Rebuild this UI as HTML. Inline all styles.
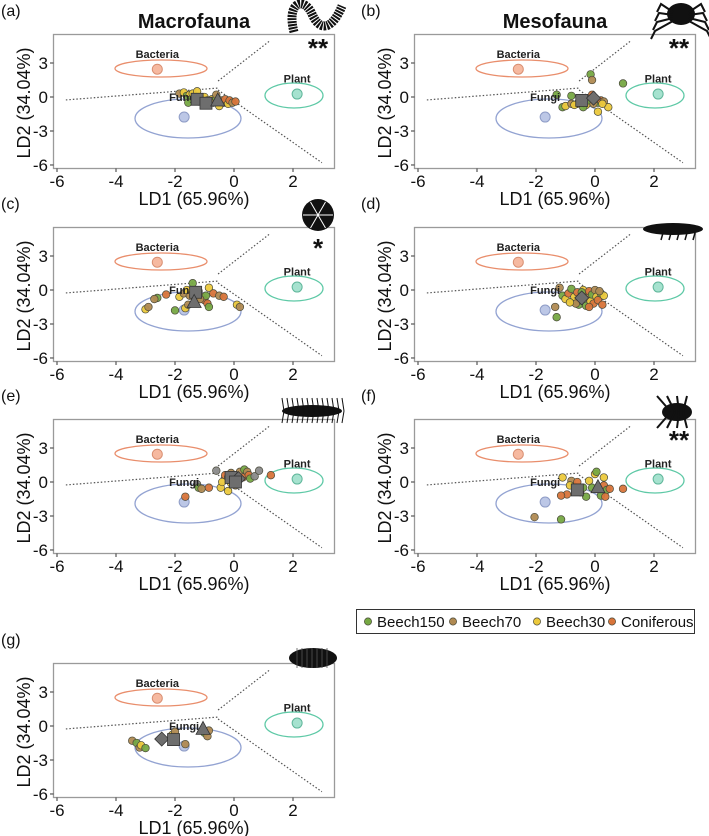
<!DOCTYPE html>
<html><head><meta charset="utf-8">
<style>
html,body{margin:0;padding:0;background:#fff;}
svg{display:block;font-family:"Liberation Sans",Arial,sans-serif;}
</style></head>
<body>
<svg id="chart" width="709" height="836" viewBox="0 0 709 836" xmlns="http://www.w3.org/2000/svg"></svg>
<script>
// ---------- data ----------
const xTicks=[-6,-4,-2,0,2];
const yTicks=[3,0,-3,-6];
const groupNames=["Beech150","Beech70","Beech30","Coniferous"];
const groupColors={B150:"#76a843",B70:"#b08a52",B30:"#ecc93c",Con:"#d8743a",G:"#8a8a8a"};
const refNames=["Bacteria","Fungi","Plant"];
const refX=[-2.6,-1.69,2.14];
const refY=[2.45,-1.77,0.26];

// panel a
const aX=[-1.85,-1.7,-1.6,-1.5,-1.45,-1.4,-1.3,-1.25,-1.2,-1.1,-1.0,-0.9,-0.85,-0.75,-0.7,-0.6,-0.5,-0.45,-0.35,-0.3,-0.2,-0.15,-0.05,0.05,-1.55,-1.0,-0.6];
const aY=[0.3,0.4,0.1,0.2,-0.2,0.3,-0.1,0.5,-0.4,-0.2,0.0,-0.3,-0.6,-0.2,-0.5,-0.1,-0.8,-0.3,-0.5,-0.2,-0.6,-0.3,-0.5,-0.4,-0.5,-0.6,0.2];
const aG=["B70","B30","B150","B30","B150","B30","B70","B30","B150","B70","B30","Con","B150","B30","B70","B150","B30","B70","B150","Con","B30","Con","B70","Con","B150","B30","B70"];
// panel b
const bX=[-0.15,-0.1,0.95,-1.3,-0.8,-1.1,-1.0,-0.8,-0.6,-0.5,-0.3,-0.2,-0.1,0,0.1,0.2,0.3,0.45,0.1,-0.4,-0.7,0.25,-0.05];
const bY=[2.0,1.5,1.2,0.2,0.1,-0.9,-0.8,-0.6,-0.6,-0.4,-0.7,-0.3,0.2,-0.1,-0.5,-0.3,-0.4,-0.9,-1.3,-0.9,-0.7,-0.6,-0.6];
const bG=["B150","B70","B150","B150","B150","B150","B30","B70","Con","B70","B30","B150","Con","B70","B150","Con","B70","B30","B30","B150","B30","B30","B70"];
// panel c
const cX=[-2.6,-2.7,-3.0,-2.9,-2.3,-2.0,-1.85,-1.7,-1.6,-1.4,-1.5,-1.3,-1.2,-1.1,-1.0,-0.9,-0.85,-0.85,-0.7,-0.5,-0.35,0.1,0.2,-1.65,-1.55,-0.95,-1.15];
const cY=[-0.7,-0.8,-1.7,-1.5,-0.4,-1.8,-0.6,-0.3,0.0,0.6,-0.5,-1.0,-0.1,-0.6,-0.9,-1.2,0.2,-1.5,-0.3,-0.5,-0.6,-1.3,-1.5,-1.6,-1.3,-0.5,-0.8];
const cG=["B150","B70","B30","B70","Con","B150","B30","B70","B30","B150","B70","B150","Con","B30","Con","Con","B30","B150","Con","B70","Con","B30","B70","B30","B70","B150","B70"];
// panel d
const dX=[-1.2,-1.1,-1.0,-0.9,-0.8,-0.75,-0.7,-0.6,-0.55,-0.5,-0.4,-0.35,-0.3,-0.25,-0.2,-0.15,-0.1,-0.05,0.0,0.05,0.1,0.2,0.25,0.3,-0.65,-0.45,-1.3,-1.35,-0.85,-0.2,0.15];
const dY=[0.2,-0.5,-0.8,-0.3,0.1,-1.0,-0.6,-0.2,-1.3,-0.9,0.0,-0.5,-1.4,-0.7,-0.1,-1.0,-0.4,-1.2,0.0,-0.6,-0.9,-0.3,-1.3,-0.5,-1.2,-0.2,-2.4,-1.5,-1.1,-1.5,-0.1];
const dG=["B70","B150","B30","Con","B150","B70","B30","Con","B150","B70","B30","Con","B150","B70","Con","B30","B150","Con","B70","B30","Con","B150","Con","B30","B70","B150","B150","B70","B30","Con","B70"];
// panel e
const eX=[-0.6,-1.25,-1.2,-1.1,-0.85,-0.45,-0.4,-0.3,-0.2,-0.1,0,0.1,0.2,0.3,0.35,0.45,0.5,0.55,0.7,0.85,1.25,-0.1,-0.2,-1.65,0.05];
const eY=[1.0,-0.2,-0.5,-0.6,-0.5,-0.5,0.0,0.6,0.4,0.8,0.2,0.5,0.9,0.4,1.1,0.9,0.6,0.3,0.5,1.0,0.6,-0.1,-0.8,-1.3,-0.3];
const eG=["G","G","B150","B70","Con","B30","B30","Con","B30","B70","B150","B30","B70","Con","B150","B70","Con","B150","G","G","Con","B30","B30","Con","B70"];
// panel f
const fX=[-1.1,-0.95,-1.15,-0.8,-0.7,-0.6,-0.5,-0.4,-0.3,-0.2,-0.1,0,0.05,0.1,0.2,0.3,0.4,0.5,0.3,0.95,-2.05,-1.15,-0.85,0.35];
const fY=[0.4,-1.1,-1.2,0.1,-0.4,0.0,-0.9,-0.5,-1.3,0.1,-0.5,0.7,0.9,-0.6,-1.2,-0.3,-0.7,-0.6,0.4,-0.6,-3.1,-3.3,-0.3,-1.3];
const fG=["B30","Con","Con","B70","B150","Con","B70","B150","B150","B30","B150","B30","B150","B30","B150","Con","B150","Con","B30","Con","B70","B150","B30","Con"];
// panel g
const gX=[-3.45,-3.3,-3.2,-3.15,-3.0,-2.1,-2.0,-1.65,-1.0,-0.9,-0.85];
const gY=[-1.3,-1.5,-1.9,-1.7,-1.95,-0.8,-0.5,-1.6,-0.6,-0.9,-0.4];
const gG=["B70","B150","B70","B30","B150","B30","B70","B70","B150","B70","B70"];
// group means (shape: s=square, t=triangle, d=diamond)
const mA_X=[-1.25,-0.95,-0.55], mA_Y=[-0.2,-0.55,-0.35], mA_S=["s","s","t"];
const mB_X=[-0.45,-0.05], mB_Y=[-0.3,-0.1], mB_S=["s","d"];
const mC_X=[-1.3,-1.35], mC_Y=[-0.2,-1.1], mC_S=["s","t"];
const mD_X=[-0.45], mD_Y=[-0.7], mD_S=["d"];
const mE_X=[-0.1,0.15,0.05], mE_Y=[0.4,0.3,0.0], mE_S=["s","d","s"];
const mF_X=[-0.6,0.1], mF_Y=[-0.7,-0.5], mF_S=["s","t"];
const mG_X=[-2.45,-2.05,-1.05], mG_Y=[-1.15,-1.2,-0.3], mG_S=["d","s","t"];

// ---------- drawing ----------
const NS="http://www.w3.org/2000/svg";
const svg=document.getElementById("chart");
function el(tag,attrs,parent,txt){const e=document.createElementNS(NS,tag);for(const k in attrs)e.setAttribute(k,attrs[k]);if(txt!==undefined)e.textContent=txt;(parent||svg).appendChild(e);return e;}

const panels=[
 {id:"a",ox:0,oy:0,title:"Macrofauna",X:aX,Y:aY,G:aG,mx:mA_X,my:mA_Y,ms:mA_S,animal:"millipede",stars:"**",ax:318,ay:14,sy:57},
 {id:"b",ox:361,oy:0,title:"Mesofauna",X:bX,Y:bY,G:bG,mx:mB_X,my:mB_Y,ms:mB_S,animal:"spider",stars:"**",ax:318,ay:14,sy:57},
 {id:"c",ox:0,oy:193,X:cX,Y:cY,G:cG,mx:mC_X,my:mC_Y,ms:mC_S,animal:"snail",stars:"*",ax:318,ay:22,sy:64},
 {id:"d",ox:361,oy:193,X:dX,Y:dY,G:dG,mx:mD_X,my:mD_Y,ms:mD_S,animal:"springtail",stars:"",ax:312,ay:36,sy:0},
 {id:"e",ox:0,oy:385,X:eX,Y:eY,G:eG,mx:mE_X,my:mE_Y,ms:mE_S,animal:"centipede",stars:"",ax:312,ay:26,sy:0},
 {id:"f",ox:361,oy:385,X:fX,Y:fY,G:fG,mx:mF_X,my:mF_Y,ms:mF_S,animal:"mite",stars:"**",ax:314,ay:27,sy:64},
 {id:"g",ox:0,oy:629,X:gX,Y:gY,G:gG,mx:mG_X,my:mG_Y,ms:mG_S,animal:"woodlouse",stars:"",ax:313,ay:29,sy:0}
];

function drawAnimal(kind,g,x,y){
  if(kind==="millipede"){
    el("path",{d:`M${x-24},${y+18} C${x-32},${y-12} ${x-14},${y-18} ${x-6},${y} C${x+2},${y+18} ${x+14},${y+16} ${x+24},${y-8}`,fill:"none",stroke:"#111","stroke-width":9,"stroke-dasharray":"2 1"},g);
  }else if(kind==="spider"){
    el("ellipse",{cx:x+2,cy:y,rx:14,ry:11,fill:"#111"},g);
    for(let i=0;i<4;i++){el("path",{d:`M${x-6},${y-2+i*3} l${-12-i*2},${-8+i*6} l-4,8`,fill:"none",stroke:"#111","stroke-width":2},g);el("path",{d:`M${x+10},${y-2+i*3} l${12+i*2},${-8+i*6} l4,8`,fill:"none",stroke:"#111","stroke-width":2},g);}
  }else if(kind==="snail"){
    el("circle",{cx:x,cy:y,r:16,fill:"#111"},g);
    for(let i=0;i<6;i++){const a=i*Math.PI/3;el("line",{x1:x,y1:y,x2:x+15*Math.cos(a),y2:y+15*Math.sin(a),stroke:"#fff","stroke-width":1},g);}
  }else if(kind==="springtail"){
    el("ellipse",{cx:x,cy:y,rx:30,ry:6,fill:"#111"},g);
    for(let i=0;i<5;i++)el("line",{x1:x-10+i*8,y1:y+4,x2:x-12+i*8,y2:y+11,stroke:"#111","stroke-width":1.5},g);
  }else if(kind==="centipede"){
    el("ellipse",{cx:x,cy:y,rx:30,ry:6,fill:"#111"},g);
    for(let i=0;i<13;i++){el("line",{x1:x-28+i*5,y1:y,x2:x-30+i*5,y2:y-13,stroke:"#111","stroke-width":1},g);el("line",{x1:x-28+i*5,y1:y,x2:x-30+i*5,y2:y+12,stroke:"#111","stroke-width":1},g);}
  }else if(kind==="mite"){
    el("ellipse",{cx:x+2,cy:y,rx:15,ry:9,fill:"#111"},g);
    for(let i=0;i<4;i++){el("line",{x1:x-4+i*4,y1:y,x2:x-18+i*10,y2:y-16,stroke:"#111","stroke-width":2},g);el("line",{x1:x-4+i*4,y1:y,x2:x-18+i*10,y2:y+16,stroke:"#111","stroke-width":2},g);}
  }else if(kind==="woodlouse"){
    el("ellipse",{cx:x,cy:y,rx:24,ry:10,fill:"#111"},g);
    for(let i=0;i<7;i++)el("line",{x1:x-16+i*5,y1:y-10,x2:x-16+i*5,y2:y+10,stroke:"#555","stroke-width":0.8},g);
  }
}

panels.forEach(p=>{
  const g=el("g",{},svg);
  
  
  const xs=v=>p.ox+234+29.5*v;
  const ys=v=>p.oy+97-11.33*v;
  const lt=el("text",{x:p.ox+(p.ox===0?1:0),y:p.oy+16,"font-size":16,fill:"#111"},g,"("+p.id+")");
  
  
  if(p.title){
    const t=el("text",{x:p.ox+194,y:p.oy+28,"font-size":20,"font-weight":"bold","text-anchor":"middle",fill:"#111"},g,p.title);
    
    
  }
  const box=el("rect",{x:p.ox+53.5,y:p.oy+34.5,width:281,height:134,fill:"#fff",stroke:"#9a9a9a","stroke-width":1.3},g);
  
  
  xTicks.forEach(v=>{
    el("line",{x1:xs(v),y1:p.oy+168.5,x2:xs(v),y2:p.oy+172,stroke:"#333","stroke-width":1},g);
    const t=el("text",{x:xs(v),y:p.oy+187,"font-size":17,"text-anchor":"middle",fill:"#111"},g,String(v));
    
    
  });
  yTicks.forEach(v=>{
    el("line",{x1:p.ox+50,y1:ys(v),x2:p.ox+53.5,y2:ys(v),stroke:"#333","stroke-width":1},g);
    const t=el("text",{x:p.ox+48,y:ys(v)+6,"font-size":17,"text-anchor":"end",fill:"#111"},g,String(v));
    
    
  });
  const xt=el("text",{x:p.ox+194,y:p.oy+205,"font-size":18,"text-anchor":"middle",fill:"#111"},g,"LD1 (65.96%)");
  
  
  const yt=el("text",{x:0,y:0,"font-size":18,"text-anchor":"middle",fill:"#111",transform:`translate(${p.ox+30},${p.oy+103}) rotate(-90)`},g,"LD2 (34.04%)");
  
  
  const dl=el("path",{d:`M${xs(-5.7)},${ys(-0.26)} L${xs(-0.54)},${ys(0.79)} M${xs(-0.54)},${ys(1.41)} L${xs(1.22)},${ys(4.97)} M${xs(-0.54)},${ys(0.62)} L${xs(2.98)},${ys(-5.8)}`,fill:"none",stroke:"#555","stroke-width":1.2,"stroke-dasharray":"1.5 2"},g);
  
  
  const e1=el("ellipse",{cx:p.ox+161,cy:p.oy+68.5,rx:46,ry:8.5,fill:"none",stroke:"#e98e6c","stroke-width":1.3},g);
  
  
  const e2=el("ellipse",{cx:p.ox+188,cy:p.oy+118.5,rx:53,ry:19.5,fill:"none",stroke:"#93a3d2","stroke-width":1.3},g);
  
  
  const e3=el("ellipse",{cx:p.ox+294,cy:p.oy+95.5,rx:29,ry:12.5,fill:"none",stroke:"#5ec9a6","stroke-width":1.3},g);
  
  
  const rf=["#f6b9a0","#bcc7e6","#a6e2cf"], rs=["#d98f72","#8e9cc6","#5fb69a"];
  refNames.forEach((n,i)=>{
    const c=el("circle",{cx:xs(refX[i]),cy:ys(refY[i]),r:5,fill:rf[i],stroke:rs[i],"stroke-width":1},g);
    
    
  });
  p.X.forEach((v,i)=>{
    const c=el("circle",{cx:xs(v),cy:ys(p.Y[i]),r:3.8,fill:groupColors[p.G[i]],stroke:"#4a4a3a","stroke-width":0.7,"fill-opacity":0.95},g);
    
    
  });
  const lb=[["Bacteria",refX[0],refY[0]+1.0],["Fungi",refX[1],refY[1]+1.4],["Plant",refX[2],refY[2]+1.0]];
  lb.forEach(l=>{
    const t=el("text",{x:xs(l[1]),y:ys(l[2]),"font-size":11,"font-weight":"bold","text-anchor":"middle",fill:"#222"},g,l[0]);
    
    
  });
  p.mx.forEach((v,i)=>{
    const cx=xs(v),cy=ys(p.my[i]),s=p.ms[i];let m;
    if(s==="s")m=el("rect",{x:cx-6,y:cy-6,width:12,height:12,fill:"#6e6e6e",stroke:"#333","stroke-width":0.8},g);
    else if(s==="t")m=el("polygon",{points:`${cx},${cy-8} ${cx+7},${cy+5} ${cx-7},${cy+5}`,fill:"#6e6e6e",stroke:"#333","stroke-width":0.8},g);
    else m=el("polygon",{points:`${cx},${cy-7} ${cx+7},${cy} ${cx},${cy+7} ${cx-7},${cy}`,fill:"#6e6e6e",stroke:"#333","stroke-width":0.8},g);
    
    
  });
  const ag=el("g",{},g);
  
  
  drawAnimal(p.animal,ag,p.ox+p.ax,p.oy+p.ay);
  if(p.stars){
    const st=el("text",{x:p.ox+318,y:p.oy+p.sy,"font-size":26,"font-weight":"bold","text-anchor":"middle",fill:"#111"},g,p.stars);
    
    
  }
});

const lg=el("g",{},svg);


el("rect",{x:356.5,y:609.5,width:338,height:24,fill:"#fff",stroke:"#333","stroke-width":1},lg);
const legX=[368,453,537,612];
const legKeys=["B150","B70","B30","Con"];
groupNames.forEach((n,i)=>{
  const c=el("circle",{cx:legX[i],cy:621.5,r:3.6,fill:groupColors[legKeys[i]],stroke:"#4a4a3a","stroke-width":0.7},lg);
  
  
  const t=el("text",{x:legX[i]+9,y:627,"font-size":15,fill:"#111"},lg,n);
  
  
});
</script>
</body></html>
